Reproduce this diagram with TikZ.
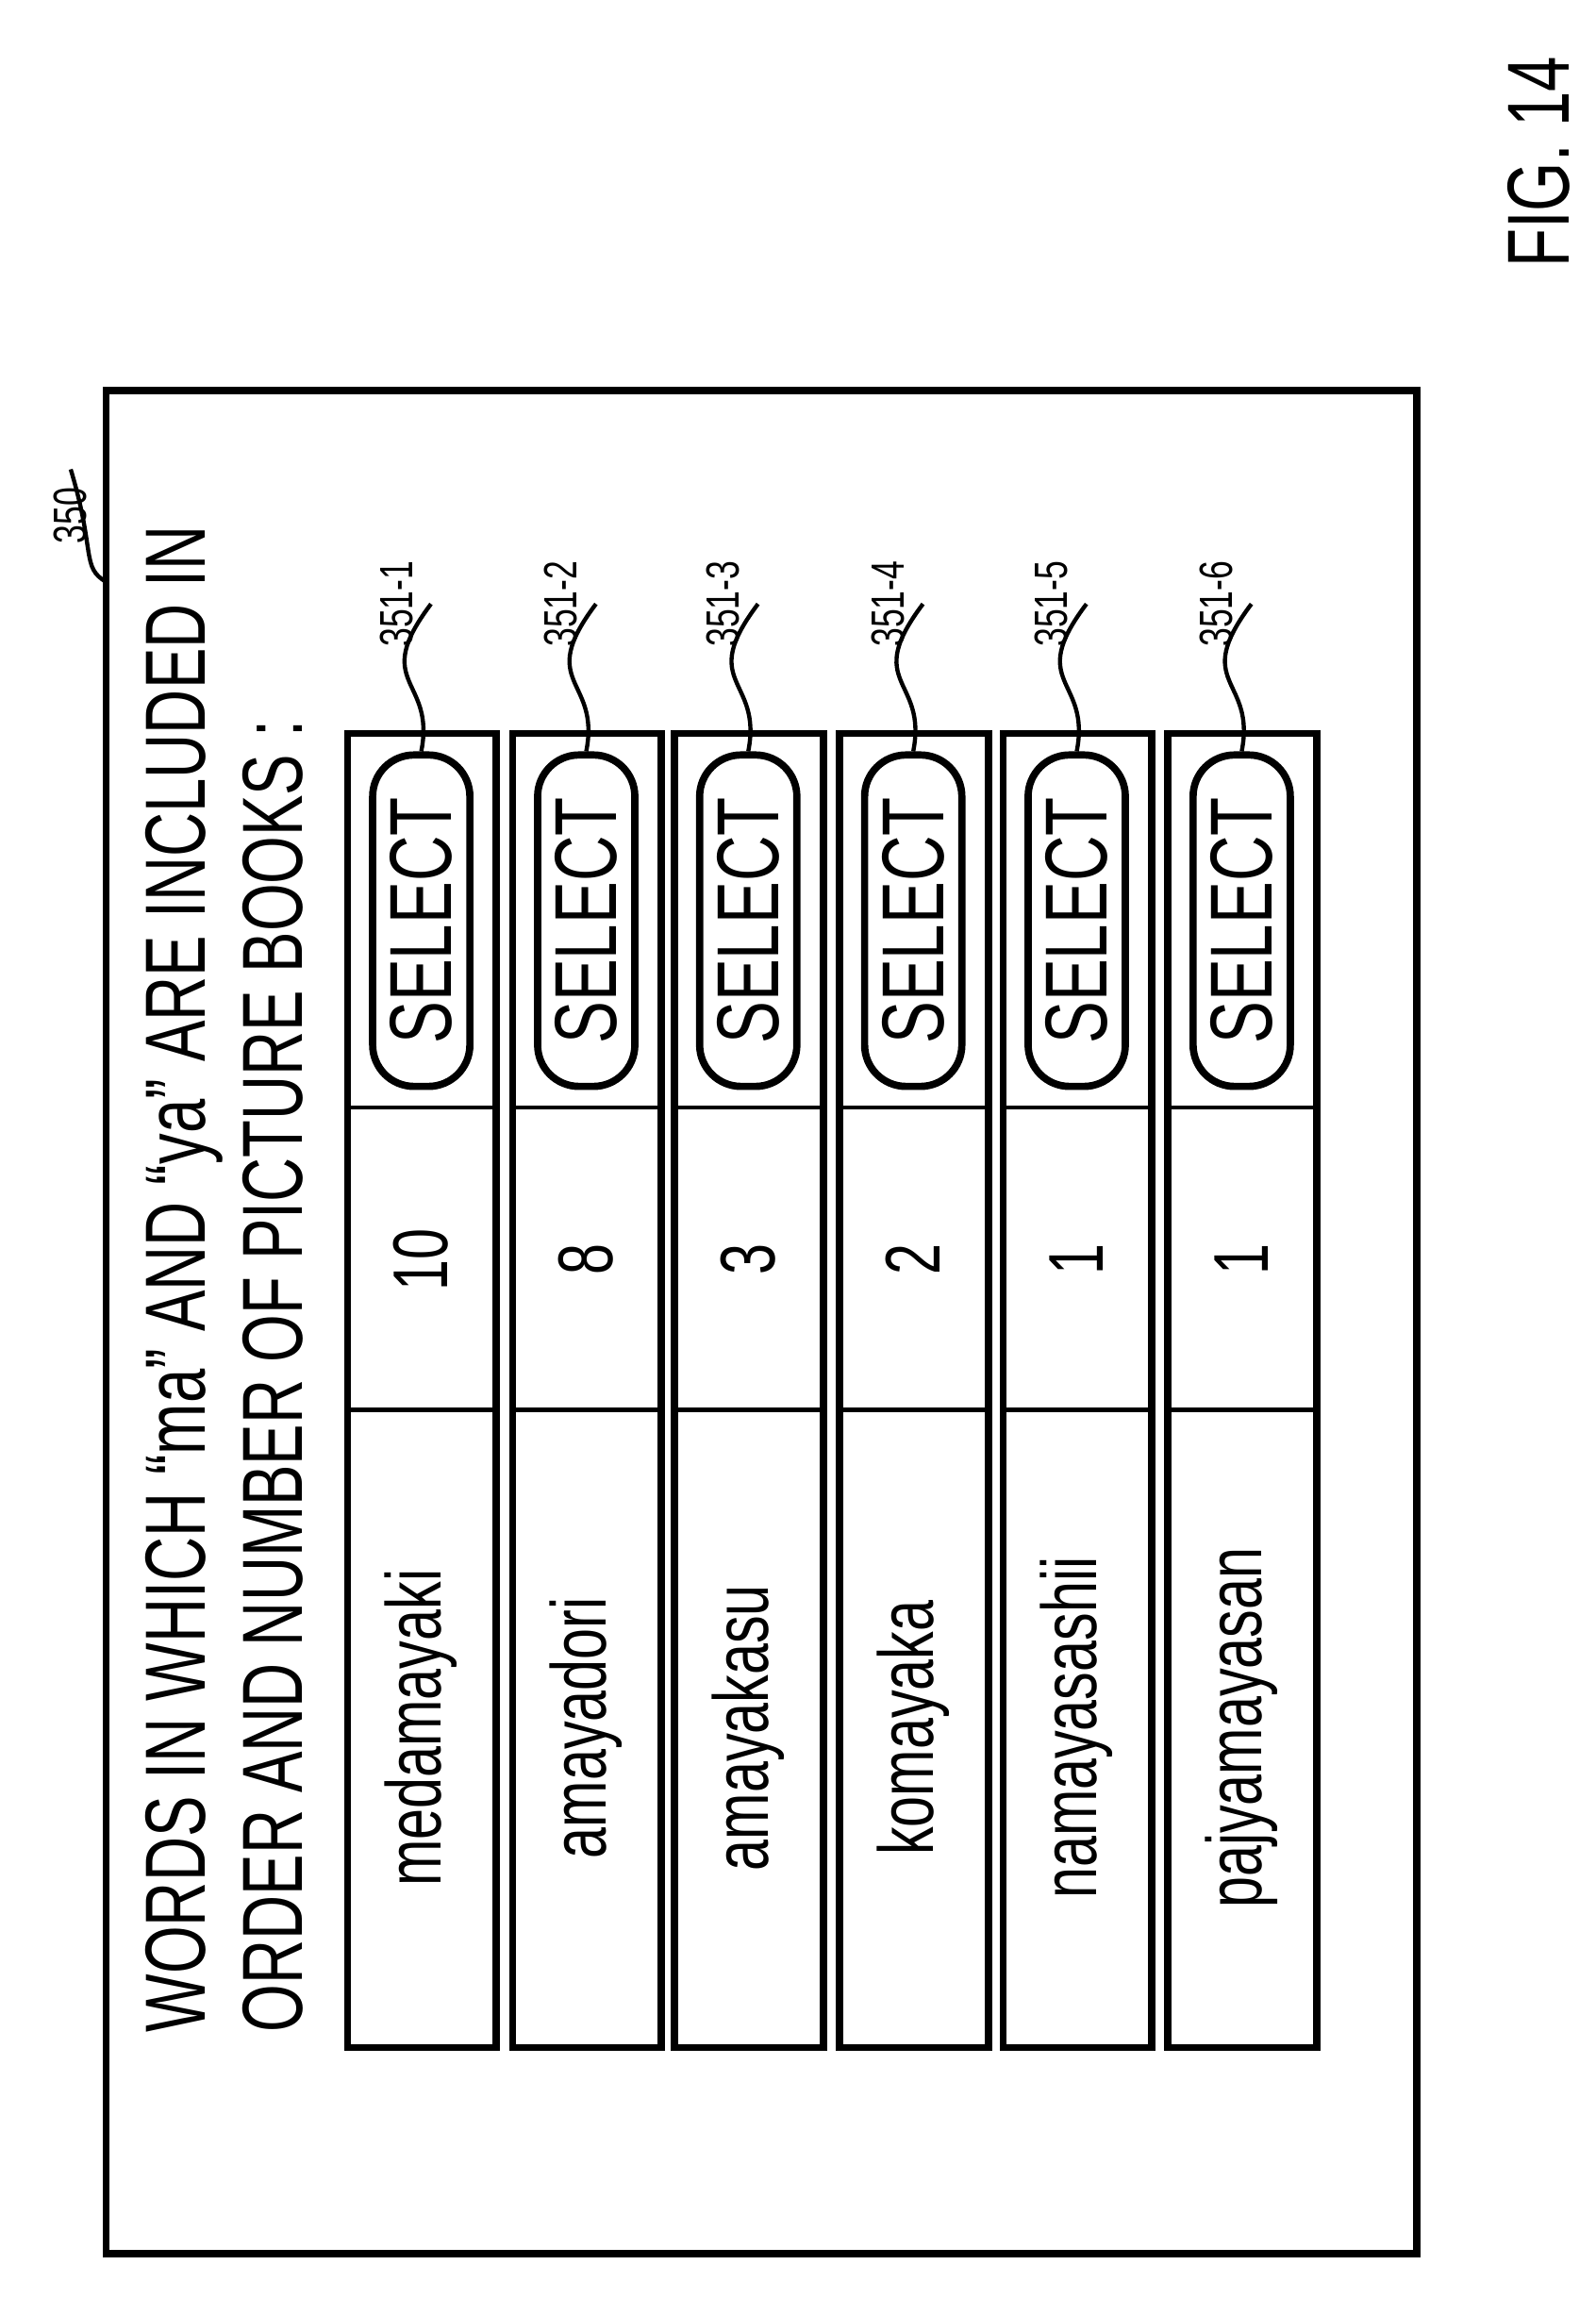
\documentclass[tikz,border=0pt]{standalone}
\usepackage{fontspec}
\setmainfont[FakeStretch=0.72]{Liberation Sans}
\usetikzlibrary{positioning,calc}

\begin{document}
\begin{tikzpicture}[x=0.1mm,y=-0.1mm,
    frame/.style={draw, line width=1.4pt},
    rowbox/.style={draw, line width=1.4pt},
    selbtn/.style={draw, line width=1.4pt, rounded corners=8pt},
    celltext/.style={rotate=90, font=\fontsize{15}{18}\selectfont},
    title/.style={rotate=90, anchor=west, font=\fontsize{16.5}{20}\selectfont},
    reflabel/.style={rotate=90, font=\fontsize{9}{11}\selectfont},
    lead/.style={line width=0.8pt}
    ]
    \useasboundingbox (0,0) rectangle (1083,1560);

    \node[rotate=90, font=\fontsize{17}{20}\selectfont] (fig) at (1045,110) {FIG. 14};

    \draw[frame] (72,265) rectangle (962,1530);
    \node[reflabel] (lab350) at (48,350) {350};
    \coordinate (tip350) at (72,395);
    \draw[lead] (lab350.east) .. controls (65,375) and (55,385) .. (tip350);

    \node[title] (line1) at (125,1392) {WORDS IN WHICH “ma” AND “ya” ARE INCLUDED IN};
    \node[title] (line2) at (185,1392) {ORDER AND NUMBER OF PICTURE BOOKS :};

    \foreach \i/\w/\n/\x in {1/medamayaki/10/236, 2/amayadori/8/348, 3/amayakasu/3/458,
                              4/komayaka/2/570, 5/namayasashii/1/681, 6/pajyamayasan/1/793} {
      \draw[rowbox] (\x,498) rectangle ++(101,892);
      \draw[line width=0.8pt] (\x,752) -- ++(101,0);
      \draw[line width=0.8pt] (\x,957) -- ++(101,0);
      \node[celltext] (word\i) at (\x+50,1173) {\w};
      \node[celltext] (num\i) at (\x+50,855) {\n};
      \node[selbtn, minimum width=22.5mm, minimum height=6.6mm, celltext, font=\fontsize{17}{20}\selectfont] (sel\i) at (\x+50,625) {SELECT};
      \node[reflabel] (lab\i) at (\x+33,410) {351-\i};
      \draw[lead] (lab\i.south) .. controls (\x+15,465) and (\x+60,460) .. (sel\i.east);
    }
\end{tikzpicture}
\end{document}
